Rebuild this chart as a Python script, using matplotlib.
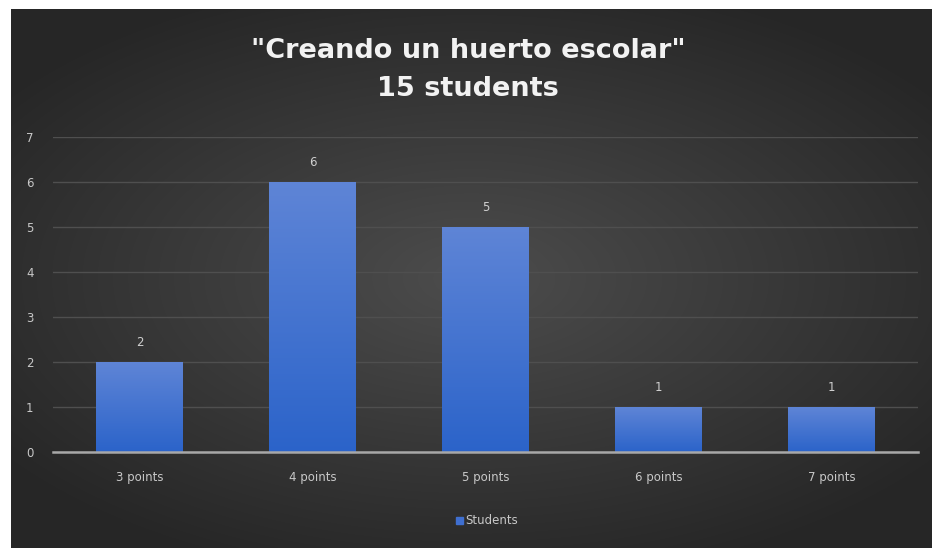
import numpy as np
import matplotlib
matplotlib.use("Agg")
import matplotlib.pyplot as plt
from matplotlib.patches import Patch

categories = ["3 points", "4 points", "5 points", "6 points", "7 points"]
students = [2, 6, 5, 1, 1]
y_ticks = [0, 1, 2, 3, 4, 5, 6, 7]
title = '"Creando un huerto escolar"\n15 students'

W, H = 932, 548
fig = plt.figure(figsize=(W / 100, H / 100), dpi=100, facecolor="white")

# dark radial backdrop, leaving a thin white strip on top and left
bg = fig.add_axes([11 / W, 0, (W - 11) / W, (H - 9) / H])
gy, gx = np.mgrid[-1:1:300j, -1:1:500j]
r = np.sqrt((gx / 1.1) ** 2 + (gy / 1.0) ** 2)
shade = np.clip(0.30 - 0.13 * r, 0.15, 0.30)
bg.imshow(np.dstack([shade, shade, shade]), aspect="auto", extent=[0, 1, 0, 1],
          interpolation="bilinear")
bg.set_axis_off()

ax = fig.add_axes([53 / W, (H - 452) / H, 865 / W, 315 / H])
ax.patch.set_alpha(0)

x = np.arange(len(categories))
bars = ax.bar(x, students, width=0.5, color="#3f6fd0", zorder=3)

# vertical blue gradient inside each bar
grad = np.linspace(0, 1, 100).reshape(-1, 1)
top_c = np.array([0.37, 0.52, 0.84])
bot_c = np.array([0.17, 0.39, 0.79])
rgb = bot_c + (top_c - bot_c) * grad
for b in bars:
    bx, by = b.get_x(), b.get_y()
    im = ax.imshow(rgb[:, None, :].repeat(2, axis=1), aspect="auto",
                   extent=[bx, bx + b.get_width(), by, by + b.get_height()],
                   origin="lower", zorder=4, interpolation="bilinear")
    im.set_clip_path(b)
    ax.text(bx + b.get_width() / 2, b.get_height() + 0.28, f"{b.get_height():g}",
            ha="center", va="bottom", color="#d0d0d0", fontsize=8.5, zorder=5)

ax.set_xlim(-0.5, len(categories) - 0.5)
ax.set_ylim(0, 7)
ax.set_yticks(y_ticks)
ax.set_xticks(x)
ax.set_xticklabels(categories)
ax.tick_params(axis="both", length=0, colors="#c8c8c8", labelsize=8.5)
ax.tick_params(axis="y", pad=14)
ax.tick_params(axis="x", pad=14)
ax.grid(axis="y", color="#4f4f4f", linewidth=1, zorder=1)
for s in ["top", "right", "left"]:
    ax.spines[s].set_visible(False)
ax.spines["bottom"].set_color("#a8a8a8")
ax.spines["bottom"].set_linewidth(1.8)
ax.spines["bottom"].set_zorder(6)

fig.text(0.502, 1 - 70 / H, title, ha="center", va="center", color="#f2f2f2",
         fontsize=19.5, fontweight="bold", linespacing=1.65)

fig.legend(handles=[Patch(color="#3f6fd0", label="Students")], loc="center",
           bbox_to_anchor=(487 / W, 1 - 521 / H), frameon=False, fontsize=8.5,
           labelcolor="#c8c8c8", handlelength=0.6, handleheight=0.6, handletextpad=0.2)

fig.savefig("out.png", dpi=100, facecolor=fig.get_facecolor())
